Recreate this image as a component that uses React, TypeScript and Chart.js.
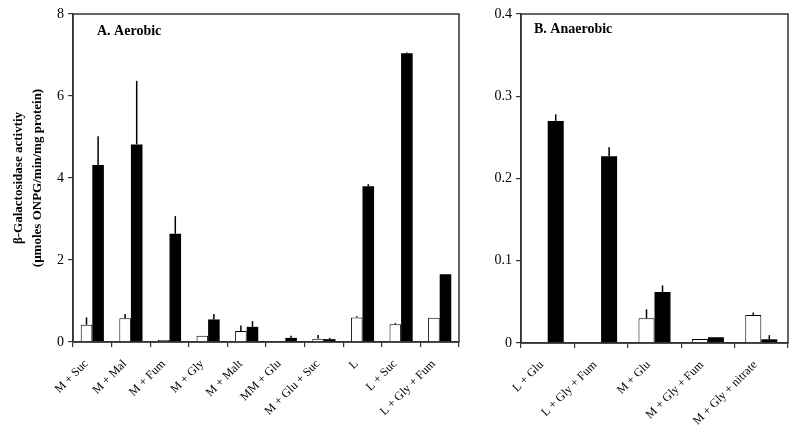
import React, { useEffect, useRef } from "react";
import { Chart, registerables } from "chart.js";

Chart.register(...registerables);

// ---- Panel A (aerobic) ----
const catsA = [
  "M + Suc", "M + Mal", "M + Fum", "M + Gly", "M + Malt",
  "MM + Glu", "M + Glu + Suc", "L", "L + Suc", "L + Gly + Fum",
];
const whiteA = [0.42, 0.58, 0.05, 0.15, 0.27, 0.02, 0.08, 0.6, 0.43, 0.59];
const whiteErrA = [0.18, 0.1, 0, 0, 0.13, 0, 0.09, 0.03, 0.03, 0];
const blackA = [4.32, 4.82, 2.64, 0.55, 0.37, 0.1, 0.07, 3.8, 7.04, 1.65];
const blackErrA = [0.7, 1.55, 0.43, 0.13, 0.14, 0.05, 0.03, 0.05, 0.02, 0];

// ---- Panel B (anaerobic) ----
const catsB = ["L + Glu", "L + Gly + Fum", "M + Glu", "M + Gly + Fum", "M + Gly + nitrate"];
const whiteB = [null, null, 0.03, 0.005, 0.034];
const whiteErrB = [0, 0, 0.011, 0, 0.003];
const blackB = [0.27, 0.227, 0.062, 0.007, 0.0045];
const blackErrB = [0.008, 0.011, 0.008, 0, 0.005];

const yTitleLines = ["β-Galactosidase activtiy", "(µmoles ONPG/min/mg protein)"];
const SERIF = "'Liberation Serif', 'Times New Roman', serif";

const framePlugin = {
  id: "frameAndErr",
  afterDatasetsDraw(chart: any, _a: any, opts: any) {
    const ctx = chart.ctx;
    const ys = chart.scales.y;
    ctx.save();
    // error bars (upward only)
    const errs: number[][] = opts.errs || [];
    chart.data.datasets.forEach((ds: any, di: number) => {
      const meta = chart.getDatasetMeta(di);
      const e = errs[di] || [];
      meta.data.forEach((el: any, i: number) => {
        const v = ds.data[i];
        if (v == null || !e[i]) return;
        const y0 = ys.getPixelForValue(v);
        const y1 = ys.getPixelForValue(v + e[i]);
        ctx.beginPath();
        ctx.strokeStyle = "#000";
        ctx.lineWidth = 1.5;
        ctx.moveTo(el.x, y0);
        ctx.lineTo(el.x, y1);
        ctx.stroke();
      });
    });
    // frame
    const a = chart.chartArea;
    ctx.strokeStyle = "#333";
    ctx.lineWidth = 1.5;
    ctx.strokeRect(a.left, a.top, a.right - a.left, a.bottom - a.top);
    // panel title
    ctx.fillStyle = "#000";
    ctx.font = `bold 14px ${SERIF}`;
    ctx.textBaseline = "alphabetic";
    ctx.textAlign = "left";
    ctx.fillText(opts.label, a.left + opts.dx, a.top + opts.dy);
    ctx.restore();
  },
};

function makeConfig(
  cats: string[], white: any[], black: number[], wErr: number[], bErr: number[],
  max: number, step: number, yWidth: number, xHeight: number, padRight: number,
  label: string, dx: number, dy: number, showTitle: boolean
): any {
  return {
    type: "bar",
    data: {
      labels: cats,
      datasets: [
        {
          data: white,
          backgroundColor: "#fff",
          borderColor: "#000",
          borderWidth: 1,
          borderSkipped: "bottom",
          categoryPercentage: 0.6,
          barPercentage: 1.0,
        },
        {
          data: black,
          backgroundColor: "#000",
          borderColor: "#000",
          borderWidth: 0,
          categoryPercentage: 0.6,
          barPercentage: 1.0,
        },
      ],
    },
    options: {
      responsive: false,
      animation: false,
      layout: { padding: { top: 14, right: padRight, left: 0, bottom: 0 } },
      plugins: {
        legend: { display: false },
        tooltip: { enabled: false },
        frameAndErr: { errs: [wErr, bErr], label, dx, dy },
      },
      scales: {
        x: {
          offset: true,
          grid: { offset: true, drawOnChartArea: false, tickLength: 5, color: "#333", lineWidth: 1.2 },
          border: { display: true, color: "#333", width: 1.5 },
          ticks: {
            autoSkip: false,
            minRotation: 45,
            maxRotation: 45,
            color: "#000",
            font: { family: SERIF, size: 12 },
            padding: 10,
            labelOffset: -6,
          },
          afterFit: (s: any) => { s.height = xHeight; },
        },
        y: {
          min: 0,
          max,
          grid: { drawOnChartArea: false, tickLength: 5, color: "#333", lineWidth: 1.2 },
          border: { display: true, color: "#333", width: 1.5 },
          ticks: {
            stepSize: step,
            color: "#000",
            font: { family: SERIF, size: 14 },
            padding: 4,
          },
          title: {
            display: showTitle,
            text: yTitleLines,
            color: "#000",
            font: { family: SERIF, size: 13, weight: "bold", lineHeight: 1.45 },
            padding: { top: 9, bottom: 4 },
          },
          afterFit: (s: any) => { s.width = yWidth; },
        },
      },
    },
    plugins: [framePlugin],
  };
}

export default function App() {
  const refA = useRef<HTMLCanvasElement>(null);
  const refB = useRef<HTMLCanvasElement>(null);
  useEffect(() => {
    const cA = new Chart(refA.current as any, makeConfig(
      catsA, whiteA, blackA, whiteErrA, blackErrA, 8, 2, 73, 89, 7, "A. Aerobic", 24, 21, true));
    const cB = new Chart(refB.current as any, makeConfig(
      catsB, whiteB, blackB, whiteErrB, blackErrB, 0.4, 0.1, 55, 88, 12, "B. Anaerobic", 13, 19, false));
    return () => { cA.destroy(); cB.destroy(); };
  }, []);
  return (
    <div style={{ position: "fixed", left: 0, top: 0, width: 800, height: 431, background: "#fff" }}>
      <canvas ref={refA} width={466} height={431} style={{ position: "absolute", left: 0, top: 0 }} />
      <canvas ref={refB} width={334} height={431} style={{ position: "absolute", left: 466, top: 0 }} />
    </div>
  );
}
